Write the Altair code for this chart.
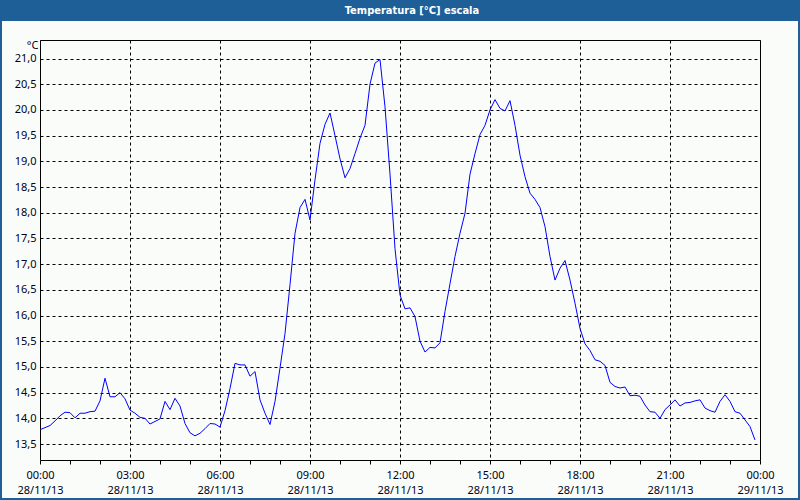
import altair as alt
import pandas as pd

# Temperature readings every 10 minutes, 28/11/13 00:00 .. 23:50
temps = [
    13.78, 13.82, 13.86, 13.95, 14.05, 14.12, 14.11, 14.01, 14.10, 14.10,
    14.13, 14.14, 14.34, 14.78, 14.42, 14.42, 14.50, 14.38, 14.16, 14.10,
    14.02, 14.00, 13.89, 13.94, 13.99, 14.33, 14.17, 14.39, 14.24, 13.90,
    13.72, 13.66, 13.71, 13.80, 13.90, 13.89, 13.83, 14.15, 14.58, 15.07,
    15.04, 15.04, 14.82, 14.91, 14.36, 14.10, 13.88, 14.33, 14.98, 15.65,
    16.60, 17.60, 18.10, 18.26, 17.86, 18.64, 19.35, 19.72, 19.94, 19.50,
    19.05, 18.68, 18.86, 19.15, 19.45, 19.70, 20.50, 20.91, 20.98, 20.06,
    18.75, 17.30, 16.40, 16.13, 16.15, 15.98, 15.50, 15.29, 15.38, 15.37,
    15.47, 16.08, 16.62, 17.15, 17.60, 17.99, 18.75, 19.15, 19.52, 19.70,
    20.00, 20.20, 20.03, 19.98, 20.18, 19.70, 19.12, 18.70, 18.38, 18.26,
    18.10, 17.73, 17.15, 16.69, 16.92, 17.07, 16.69, 16.24, 15.75, 15.45,
    15.32, 15.14, 15.11, 15.03, 14.70, 14.62, 14.59, 14.61, 14.44, 14.45,
    14.43, 14.26, 14.13, 14.12, 14.00, 14.17, 14.26, 14.36, 14.24, 14.30,
    14.31, 14.34, 14.36, 14.20, 14.15, 14.12, 14.33, 14.46, 14.33, 14.13,
    14.10, 13.97, 13.84, 13.58,
]
hours = [i / 6 for i in range(len(temps))]

y_ticks = [13.5, 14.0, 14.5, 15.0, 15.5, 16.0, 16.5, 17.0, 17.5, 18.0,
           18.5, 19.0, 19.5, 20.0, 20.5, 21.0]
x_ticks = list(range(25))
title_text = "Temperatura [°C] escala"
unit_text = "°C"
day1, day2 = "28/11/13", "29/11/13"

df = pd.DataFrame({"hora": hours, "temp": temps})
one = pd.DataFrame({"a": [0]})

FONT = "Noto Sans"
TXT = "#000020"
BLUE_BAR = "#1E5F97"

x_axis = alt.Axis(
    values=x_ticks, title=None, grid=True,
    gridOpacity={"condition": {"test": "datum.value % 3 == 0", "value": 1}, "value": 0},
    gridColor="black", gridDash=[3, 3], gridWidth=1,
    domain=False, ticks=True, tickSize=4, tickColor="black",
    labelExpr=(
        "datum.value % 3 == 0 ? [((datum.value % 24) < 10 ? '0' : '') + (datum.value % 24) + ':00', "
        f"datum.value == 24 ? '{day2}' : '{day1}'] : ''"
    ),
    labelFlush=False, labelOverlap=False, labelFont=FONT, labelFontSize=11,
    labelColor=TXT, labelPadding=5, labelLineHeight=15, labelBaseline="top",
)
y_axis = alt.Axis(
    values=y_ticks, title=unit_text, titleAngle=0, titleAlign="right",
    titleBaseline="middle", titleX=-2, titleY=5, titleFont=FONT,
    titleFontSize=11, titleFontWeight="normal", titleColor=TXT,
    grid=True, gridColor="black", gridDash=[3, 3], gridWidth=1,
    domain=False, ticks=False, labelPadding=4,
    labelExpr="replace(format(datum.value, '.1f'), '.', ',')",
    labelFont=FONT, labelFontSize=11, labelColor=TXT,
)

line = alt.Chart(df).mark_line(color="#0000FF", strokeWidth=1).encode(
    x=alt.X("hora:Q", scale=alt.Scale(domain=[0, 24], nice=False, zero=False), axis=x_axis),
    y=alt.Y("temp:Q", scale=alt.Scale(domain=[13.19, 21.36], nice=False, zero=False), axis=y_axis),
)

bar = alt.Chart(one).mark_rect(color=BLUE_BAR).encode(
    x=alt.value(-40), x2=alt.value(760), y=alt.value(-40), y2=alt.value(-19)
)
title = alt.Chart(one).mark_text(
    text=title_text, color="white",
    font="'DejaVu Sans Condensed', 'Liberation Sans', 'Noto Sans', sans-serif",
    fontWeight="bold", fontSize=11, align="center", baseline="middle",
).encode(x=alt.value(372), y=alt.value(-29.5))
frame = alt.Chart(one).mark_rect(fillOpacity=0, stroke=BLUE_BAR, strokeWidth=2).encode(
    x=alt.value(-39), x2=alt.value(759), y=alt.value(-39), y2=alt.value(459)
)

chart = alt.layer(bar, line, title, frame).properties(
    width=720, height=420,
    autosize=alt.AutoSizeParams(type="none"),
    padding={"left": 40, "top": 40, "right": 40, "bottom": 40},
    background="#FAFCFA",
).configure_view(stroke="black", strokeWidth=1)

chart.save("out.html", embed_options={"renderer": "svg", "actions": False})
